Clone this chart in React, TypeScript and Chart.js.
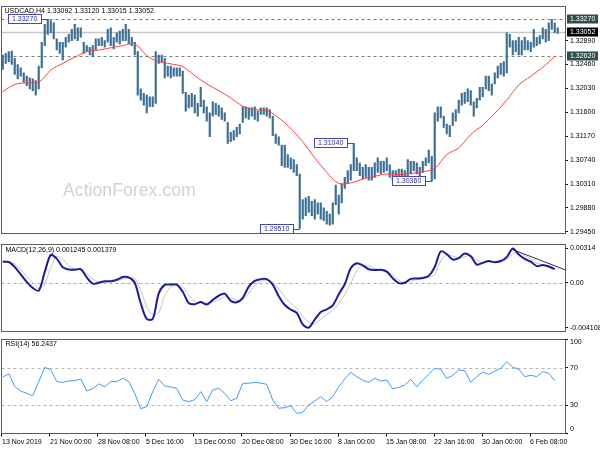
import React, { useEffect, useRef } from "react";
import { Chart, registerables } from "chart.js";

Chart.register(...registerables);

// ---------------- data ----------------
const symbolTitle = "USDCAD,H4 1.33092 1.33120 1.33015 1.33052";
const macdTitle = "MACD(12,26,9) 0.001245 0.001379";
const rsiTitle = "RSI(14) 56.2437";
const watermarkText = "ActionForex.com";

const timeLabels = [
  "13 Nov 2019", "21 Nov 00:00", "28 Nov 08:00", "5 Dec 16:00", "13 Dec 00:00", "20 Dec 08:00",
  "30 Dec 16:00", "8 Jan 00:00", "15 Jan 08:00", "22 Jan 16:00", "30 Jan 00:00", "6 Feb 08:00",
];
const timeLabelBars = [0, 32, 64, 96, 128, 160, 192, 224, 256, 288, 320, 352];

// price bars (each bar = two H4 candles), high / low
const barHigh = [
  1.3263, 1.3266, 1.3269, 1.3270, 1.3257, 1.3246, 1.3240, 1.3231, 1.3225, 1.3222,
  1.3220, 1.3217, 1.3243, 1.3286, 1.3318, 1.3327, 1.3325, 1.3321, 1.3292, 1.3286,
  1.3286, 1.3295, 1.3300, 1.3309, 1.3318, 1.3312, 1.3312, 1.3286, 1.3280, 1.3277,
  1.3280, 1.3292, 1.3292, 1.3295, 1.3289, 1.3309, 1.3312, 1.3295, 1.3303, 1.3306,
  1.3309, 1.3318, 1.3309, 1.3295, 1.3286, 1.3269, 1.3202, 1.3194, 1.3191, 1.3188,
  1.3188, 1.3269, 1.3263, 1.3263, 1.3257, 1.3243, 1.3243, 1.3240, 1.3240, 1.3240,
  1.3234, 1.3196, 1.3191, 1.3194, 1.3191, 1.3176, 1.3205, 1.3182, 1.3170, 1.3159,
  1.3179, 1.3176, 1.3173, 1.3168, 1.3159, 1.3142, 1.3124, 1.3127, 1.3133, 1.3139,
  1.3170, 1.3170, 1.3168, 1.3168, 1.3170, 1.3162, 1.3168, 1.3168, 1.3168, 1.3165,
  1.3153, 1.3121, 1.3116, 1.3101,
  1.3101, 1.3084, 1.3078, 1.3075, 1.3066, 1.3049,
  1.3003, 1.3006, 1.3009, 1.3000, 1.3003, 1.2997, 1.2997, 1.2988, 1.2982, 1.2977,
  1.2997, 1.3029, 1.3011, 1.3032, 1.3043, 1.3055, 1.3066, 1.3104, 1.3078, 1.3069,
  1.3061, 1.3066, 1.3061, 1.3061, 1.3069, 1.3078, 1.3072, 1.3072, 1.3078, 1.3066,
  1.3055, 1.3055, 1.3058, 1.3058, 1.3055, 1.3075, 1.3072, 1.3072, 1.3069, 1.3061,
  1.3072, 1.3078, 1.3092, 1.3081, 1.3159, 1.3170, 1.3170, 1.3153, 1.3139, 1.3136,
  1.3159, 1.3165, 1.3182, 1.3194, 1.3196, 1.3202, 1.3199, 1.3179, 1.3185, 1.3205,
  1.3205, 1.3225, 1.3225, 1.3211, 1.3231, 1.3243, 1.3248, 1.3251, 1.3303, 1.3300,
  1.3289, 1.3289, 1.3295, 1.3289, 1.3295, 1.3289, 1.3286, 1.3309, 1.3295, 1.3298,
  1.3312, 1.3309, 1.3321, 1.3327, 1.3321, 1.3312,
];
const barLow = [
  1.3237, 1.3248, 1.3251, 1.3246, 1.3228, 1.3220, 1.3225, 1.3214, 1.3208, 1.3202,
  1.3199, 1.3191, 1.3202, 1.3240, 1.3280, 1.3300, 1.3303, 1.3292, 1.3272, 1.3266,
  1.3254, 1.3277, 1.3286, 1.3289, 1.3292, 1.3289, 1.3295, 1.3266, 1.3269, 1.3263,
  1.3260, 1.3272, 1.3280, 1.3280, 1.3277, 1.3286, 1.3280, 1.3274, 1.3286, 1.3283,
  1.3289, 1.3289, 1.3283, 1.3280, 1.3263, 1.3191, 1.3182, 1.3173, 1.3159, 1.3170,
  1.3170, 1.3176, 1.3248, 1.3251, 1.3222, 1.3225, 1.3222, 1.3225, 1.3225, 1.3225,
  1.3194, 1.3162, 1.3168, 1.3170, 1.3159, 1.3153, 1.3170, 1.3159, 1.3144, 1.3116,
  1.3153, 1.3156, 1.3153, 1.3147, 1.3144, 1.3104, 1.3107, 1.3110, 1.3116, 1.3121,
  1.3142, 1.3150, 1.3147, 1.3153, 1.3147, 1.3144, 1.3156, 1.3156, 1.3153, 1.3150,
  1.3118, 1.3104, 1.3101, 1.3064,
  1.3061, 1.3061, 1.3058, 1.3052, 1.3046, 1.2951,
  1.2968, 1.2974, 1.2980, 1.2974, 1.2968, 1.2977, 1.2968, 1.2965, 1.2959, 1.2957,
  1.2959, 1.2994, 1.2977, 1.2997, 1.3023, 1.3032, 1.3038, 1.3055, 1.3055, 1.3046,
  1.3040, 1.3043, 1.3038, 1.3038, 1.3043, 1.3052, 1.3049, 1.3052, 1.3055, 1.3043,
  1.3038, 1.3038, 1.3040, 1.3043, 1.3038, 1.3043, 1.3049, 1.3055, 1.3049, 1.3043,
  1.3052, 1.3064, 1.3069, 1.3036, 1.3040, 1.3144, 1.3150, 1.3133, 1.3121, 1.3116,
  1.3136, 1.3144, 1.3159, 1.3173, 1.3176, 1.3179, 1.3173, 1.3153, 1.3168, 1.3182,
  1.3188, 1.3202, 1.3199, 1.3191, 1.3211, 1.3222, 1.3228, 1.3225, 1.3231, 1.3277,
  1.3263, 1.3269, 1.3263, 1.3263, 1.3272, 1.3272, 1.3269, 1.3277, 1.3280, 1.3283,
  1.3292, 1.3286, 1.3289, 1.3309, 1.3303, 1.3302,
];

// moving average (sampled every 8 H4 candles)
const maValues = [
  1.3197, 1.3210, 1.3213, 1.3214, 1.3236, 1.3248, 1.3259, 1.3269, 1.3272, 1.3276,
  1.3280, 1.3283, 1.3262, 1.3251, 1.3247, 1.3242, 1.3226, 1.3211, 1.3199, 1.3186,
  1.3171, 1.3165, 1.3163, 1.3150, 1.3131, 1.3107, 1.3078, 1.3052, 1.3032, 1.3033,
  1.3040, 1.3045, 1.3049, 1.3048, 1.3050, 1.3053, 1.3059, 1.3084, 1.3096, 1.3120,
  1.3137, 1.3158, 1.3182, 1.3209, 1.3225, 1.3241, 1.3260,
];

// indicators (sampled every 4 H4 candles)
const macdValues = [
  0.00193, 0.00190, 0.00144, 0.00077, 0.00008, -0.00047, -0.00072, 0.00099, 0.00254, 0.00221,
  0.00141, 0.00121, 0.00119, 0.00124, 0.00050, -0.00008, 0.00000, 0.00014, 0.00014, 0.00028,
  0.00052, 0.00050, 0.00000, -0.00188, -0.00331, -0.00331, -0.00097, -0.00019, -0.00017, -0.00017,
  -0.00083, -0.00185, -0.00196, -0.00177, -0.00199, -0.00157, -0.00119, -0.00099, -0.00166, -0.00179,
  -0.00138, -0.00036, 0.00017, 0.00033, 0.00033, -0.00017, -0.00124, -0.00204, -0.00246, -0.00276,
  -0.00381, -0.004108, -0.00337, -0.00268, -0.00243, -0.00207, -0.00105, -0.00014, 0.00132, 0.00179,
  0.00160, 0.00124, 0.00116, 0.00119, 0.00102, 0.00041, -0.00003, 0.00000, 0.00036, 0.00039,
  0.00044, 0.00063, 0.00144, 0.00287, 0.00262, 0.00213, 0.00226, 0.00268, 0.00243, 0.00166,
  0.00182, 0.00199, 0.00188, 0.00199, 0.00235, 0.00314, 0.00259, 0.00218, 0.00193, 0.00152,
  0.00163, 0.00149, 0.001245,
];
const signalValues = [
  0.00199, 0.00193, 0.00171, 0.00119, 0.00055, 0.00000, -0.00055, -0.00008, 0.00138, 0.00240,
  0.00215, 0.00155, 0.00130, 0.00119, 0.00083, 0.00033, 0.00008, 0.00006, 0.00011, 0.00017,
  0.00033, 0.00041, 0.00039, -0.00069, -0.00221, -0.00293, -0.00276, -0.00116, -0.00039, -0.00025,
  -0.00041, -0.00116, -0.00171, -0.00185, -0.00185, -0.00177, -0.00157, -0.00130, -0.00141, -0.00160,
  -0.00155, -0.00097, -0.00028, 0.00011, 0.00025, 0.00006, -0.00055, -0.00130, -0.00188, -0.00235,
  -0.00304, -0.00364, -0.00375, -0.00334, -0.00290, -0.00254, -0.00193, -0.00105, -0.00006, 0.00110,
  0.00160, 0.00155, 0.00130, 0.00119, 0.00110, 0.00069, 0.00022, 0.00003, 0.00014, 0.00028,
  0.00036, 0.00050, 0.00077, 0.00199, 0.00254, 0.00243, 0.00226, 0.00237, 0.00248, 0.00207,
  0.00182, 0.00188, 0.00190, 0.00193, 0.00213, 0.00265, 0.00279, 0.00248, 0.00215, 0.00179,
  0.00166, 0.00155, 0.001379,
];
const rsiValues = [
  60.1, 63.6, 49.8, 45.2, 42.7, 40.3, 55.2, 70.4, 67.9, 55.2,
  54.4, 55.9, 56.2, 58.0, 45.2, 47.7, 52.7, 49.8, 55.2, 55.2,
  58.7, 55.2, 42.7, 26.4, 28.6, 44.5, 57.6, 50.5, 49.5, 48.1,
  35.6, 33.9, 36.0, 44.5, 33.9, 46.3, 48.1, 42.7, 34.9, 37.4,
  53.4, 53.4, 54.4, 53.7, 52.3, 35.6, 26.8, 27.5, 29.6, 21.5,
  22.5, 30.3, 34.6, 39.2, 33.9, 39.2, 49.8, 58.0, 65.1, 60.5,
  56.6, 54.4, 58.7, 55.9, 56.9, 47.4, 49.1, 51.6, 57.6, 49.8,
  56.9, 62.9, 69.3, 68.3, 58.7, 61.9, 67.6, 66.9, 54.4, 60.5,
  65.4, 62.9, 66.5, 69.3, 76.4, 70.4, 68.6, 60.5, 61.9, 60.5,
  65.8, 64.0, 56.2437,
];

const priceTicks = [1.2945, 1.2988, 1.3031, 1.3074, 1.3117, 1.316, 1.3203, 1.3246, 1.3289];
const priceLevels = [1.3327, 1.3262];
const bidPrice = 1.33052;
const markedBars = [15, 99, 117, 143];
const markedPrices = [1.3327, 1.2951, 1.3104, 1.3036];
const markedLabels = ["1.33270", "1.29510", "1.31040", "1.30360"];

const macdTicks = [-0.004108, 0, 0.00314];
const macdTickLabels = ["-0.004108", "0.00", "0.00314"];
const trendBars = [340, 375.3];
const trendValues = [0.00306, 0.00119];

const rsiTicks = [0, 30, 70, 100];
const rsiLevels = [30, 70];

// ---------------- layout / style ----------------
const FONT = '"Liberation Sans", Arial, sans-serif';
const X_MIN = -0.33;
const X_MAX = 375.33;
const PRICE_MIN = 1.29415;
const PRICE_MAX = 1.33508;
const MACD_MIN = -0.00449;
const MACD_MAX = 0.00353;

Chart.defaults.font.family = FONT;
Chart.defaults.font.size = 7;
Chart.defaults.color = "#000000";

const barPos = (k: number) => k * 2 + 0.5;
const maPos = (j: number) => j * 8 + 0.5;
const indPos = (j: number) => j * 4 + 0.5;

function xScale(show: boolean): any {
  return {
    type: "linear",
    min: X_MIN,
    max: X_MAX,
    offset: false,
    display: show,
    grid: { display: show, offset: false, drawOnChartArea: false, drawTicks: true, tickLength: 3, color: "#000000" },
    border: { display: false },
    ticks: {
      display: show,
      autoSkip: false,
      maxRotation: 0,
      minRotation: 0,
      align: "start",
      padding: 1,
      color: "#000000",
      font: { size: 7, family: FONT },
      callback: (_v: any, i: number) => timeLabels[i] ?? "",
    },
    afterBuildTicks: (s: any) => {
      s.ticks = timeLabelBars.map((v) => ({ value: v }));
    },
    afterFit: (s: any) => {
      if (show) s.height = 16.5;
    },
  };
}

function yScale(min: number, max: number, ticks: number[], fmt: (v: number, i: number) => string, showLabels: boolean): any {
  return {
    type: "linear",
    position: "right",
    min,
    max,
    bounds: "data",
    beginAtZero: false,
    grid: { drawOnChartArea: false, drawTicks: true, tickLength: 3, color: "#000000" },
    border: { display: false },
    ticks: {
      display: showLabels,
      autoSkip: false,
      padding: 2,
      color: "#000000",
      font: { size: 7, family: FONT },
      callback: (v: any, i: number) => fmt(Number(v), i),
    },
    afterBuildTicks: (s: any) => {
      s.ticks = ticks.map((v) => ({ value: v }));
    },
    afterFit: (s: any) => {
      s.width = 35;
    },
  };
}

function drawFrame(ctx: CanvasRenderingContext2D, a: any) {
  ctx.save();
  ctx.setLineDash([]);
  ctx.strokeStyle = "#5c5c5c";
  ctx.lineWidth = 1;
  const l = Math.floor(a.left);
  const t = Math.floor(a.top);
  const r = Math.floor(a.right);
  const b = Math.floor(a.bottom);
  ctx.strokeRect(l + 0.5, t + 0.5, r - l, b - t);
  ctx.restore();
}

function hLine(ctx: CanvasRenderingContext2D, a: any, y: number, color: string, dash: number[], width: number) {
  ctx.save();
  ctx.strokeStyle = color;
  ctx.lineWidth = width;
  ctx.setLineDash(dash);
  const yy = Math.round(y) + 0.5;
  ctx.beginPath();
  ctx.moveTo(a.left, yy);
  ctx.lineTo(a.right, yy);
  ctx.stroke();
  ctx.restore();
}

function drawText(ctx: CanvasRenderingContext2D, text: string, x: number, y: number, color: string, size = 7) {
  ctx.save();
  ctx.font = `${size}px ${FONT}`;
  ctx.fillStyle = color;
  ctx.textBaseline = "middle";
  ctx.textAlign = "left";
  ctx.fillText(text, x, y);
  ctx.restore();
}

const pricePlugin: any = {
  id: "priceDecor",
  beforeDatasetsDraw(chart: any) {
    const { ctx, chartArea: a, scales } = chart;
    const y = scales.y;
    drawText(ctx, watermarkText, a.left + 61.5, 191, "#d2d2d2", 17.7);
    priceLevels.forEach((p) => hLine(ctx, a, y.getPixelForValue(p), "#7a7a7a", [3, 3], 1));
    hLine(ctx, a, y.getPixelForValue(bidPrice), "#c8c8c8", [], 1.5);
  },
  afterDraw(chart: any) {
    const { ctx, chartArea: a, scales } = chart;
    const x = scales.x;
    const y = scales.y;
    drawFrame(ctx, a);
    drawText(ctx, symbolTitle, a.left + 3, a.top + 5, "#000000");
    // price markers
    ctx.save();
    ctx.font = `7px ${FONT}`;
    markedLabels.forEach((label, i) => {
      const bx = x.getPixelForValue(barPos(markedBars[i]));
      const by = Math.round(y.getPixelForValue(markedPrices[i]));
      const w = Math.round(ctx.measureText(label).width + 8);
      const right = Math.round(bx - 7);
      const left = right - w;
      ctx.fillStyle = "#ffffff";
      ctx.fillRect(left, by - 5, w, 10);
      ctx.strokeStyle = "#4646b8";
      ctx.lineWidth = 1;
      ctx.strokeRect(left + 0.5, by - 4.5, w, 9);
      ctx.beginPath();
      ctx.moveTo(right + 0.5, by + 0.5);
      ctx.lineTo(bx, by + 0.5);
      ctx.stroke();
      ctx.fillStyle = "#2c2ca4";
      ctx.textBaseline = "middle";
      ctx.fillText(label, left + 4, by + 0.5);
    });
    ctx.restore();
    // axis value boxes
    const boxes = [
      { v: priceLevels[0], bg: "#2f4f4f" },
      { v: bidPrice, bg: "#000000" },
      { v: priceLevels[1], bg: "#2f4f4f" },
    ];
    boxes.forEach((bx) => {
      const by = Math.round(y.getPixelForValue(bx.v));
      ctx.save();
      ctx.fillStyle = bx.bg;
      ctx.fillRect(a.right + 2, by - 4.5, 31, 9);
      ctx.restore();
      drawText(ctx, bx.v.toFixed(5), a.right + 5, by, "#ffffff");
    });
  },
};

const macdPlugin: any = {
  id: "macdDecor",
  beforeDatasetsDraw(chart: any) {
    const { ctx, chartArea: a, scales } = chart;
    hLine(ctx, a, scales.y.getPixelForValue(0), "#a8a8a8", [3, 3], 1);
  },
  afterDraw(chart: any) {
    const { ctx, chartArea: a } = chart;
    drawFrame(ctx, a);
    drawText(ctx, macdTitle, a.left + 4, a.top + 6, "#000000");
  },
};

const rsiPlugin: any = {
  id: "rsiDecor",
  beforeDatasetsDraw(chart: any) {
    const { ctx, chartArea: a, scales } = chart;
    rsiLevels.forEach((v) => hLine(ctx, a, scales.y.getPixelForValue(v), "#b4b4b4", [3, 3], 1));
  },
  afterDraw(chart: any) {
    const { ctx, chartArea: a, scales } = chart;
    drawFrame(ctx, a);
    drawText(ctx, rsiTitle, a.left + 4, a.top + 5, "#000000");
    rsiTicks.forEach((v) => {
      const yy = Math.min(Math.max(scales.y.getPixelForValue(v), a.top + 3), a.bottom - 4);
      drawText(ctx, String(v), a.right + 5, yy, "#000000");
    });
  },
};

const baseOptions = (padding: any): any => ({
  responsive: false,
  maintainAspectRatio: false,
  animation: false,
  events: [],
  layout: { padding },
  plugins: { legend: { display: false }, tooltip: { enabled: false }, title: { display: false } },
});

export default function App() {
  const priceRef = useRef<HTMLCanvasElement>(null);
  const macdRef = useRef<HTMLCanvasElement>(null);
  const rsiRef = useRef<HTMLCanvasElement>(null);

  useEffect(() => {
    const charts: Chart[] = [];

    charts.push(
      new Chart(priceRef.current as HTMLCanvasElement, {
        type: "bar",
        data: {
          datasets: [
            {
              type: "line",
              data: maValues.map((v, j) => ({ x: maPos(j), y: v })),
              borderColor: "#ff4040",
              borderWidth: 1,
              pointRadius: 0,
              tension: 0.35,
              order: 1,
            } as any,
            {
              type: "bar",
              data: barHigh.map((h, k) => ({ x: barPos(k), y: [barLow[k], h] })),
              backgroundColor: "#3d6f93",
              borderWidth: 0,
              barThickness: 1.5,
              order: 2,
            } as any,
          ],
        },
        options: {
          ...baseOptions({ left: 1.5, top: 1, right: 0, bottom: 3 }),
          scales: {
            x: xScale(false),
            y: yScale(PRICE_MIN, PRICE_MAX, priceTicks, (v) => v.toFixed(5), true),
          },
        },
        plugins: [pricePlugin],
      } as any)
    );

    charts.push(
      new Chart(macdRef.current as HTMLCanvasElement, {
        type: "line",
        data: {
          datasets: [
            {
              data: macdValues.map((v, j) => ({ x: indPos(j), y: v })),
              borderColor: "#1c1ca2",
              borderWidth: 2,
              pointRadius: 0,
              tension: 0.3,
              order: 1,
            },
            {
              data: signalValues.map((v, j) => ({ x: indPos(j), y: v })),
              borderColor: "#c4c4c4",
              borderWidth: 1,
              pointRadius: 0,
              tension: 0.3,
              order: 2,
            },
            {
              data: trendValues.map((v, i) => ({ x: trendBars[i], y: v })),
              borderColor: "#303030",
              borderWidth: 1,
              pointRadius: 0,
              tension: 0,
              order: 0,
            },
          ],
        },
        options: {
          ...baseOptions({ left: 1.5, top: 1, right: 0, bottom: 2 }),
          scales: {
            x: xScale(false),
            y: yScale(MACD_MIN, MACD_MAX, macdTicks, (_v, i) => macdTickLabels[i] ?? "", true),
          },
        },
        plugins: [macdPlugin],
      } as any)
    );

    charts.push(
      new Chart(rsiRef.current as HTMLCanvasElement, {
        type: "line",
        data: {
          datasets: [
            {
              data: rsiValues.map((v, j) => ({ x: indPos(j), y: v })),
              borderColor: "#3d9bff",
              borderWidth: 1,
              pointRadius: 0,
              tension: 0,
            },
          ],
        },
        options: {
          ...baseOptions({ left: 1.5, top: 2.5, right: 0, bottom: 0 }),
          scales: {
            x: xScale(true),
            y: yScale(0, 100, rsiTicks, (v) => String(v), false),
          },
        },
        plugins: [rsiPlugin],
      } as any)
    );

    return () => charts.forEach((c) => c.destroy());
  }, []);

  return (
    <div style={{ position: "fixed", left: 0, top: 0, width: 600, height: 450, background: "#ffffff", overflow: "hidden" }}>
      <canvas ref={priceRef} width={600} height={240} style={{ position: "absolute", left: 0, top: 0, width: 600, height: 240 }} />
      <canvas ref={macdRef} width={600} height={100} style={{ position: "absolute", left: 0, top: 238, width: 600, height: 100 }} />
      <canvas ref={rsiRef} width={600} height={113} style={{ position: "absolute", left: 0, top: 337, width: 600, height: 113 }} />
    </div>
  );
}
